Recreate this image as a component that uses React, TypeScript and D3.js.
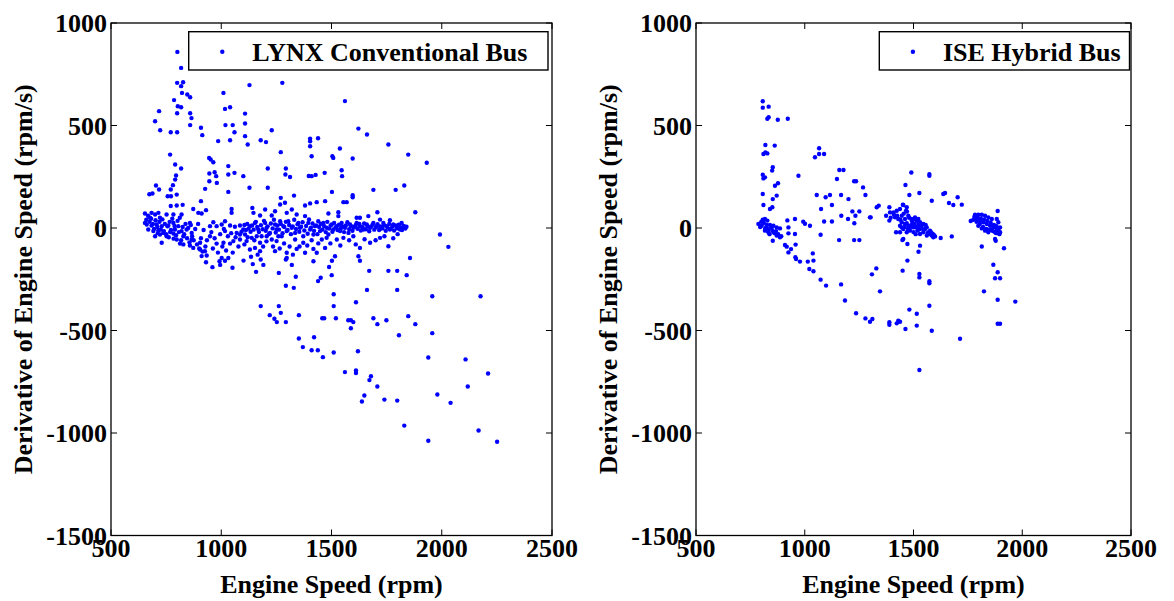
import React from 'react';
import * as d3 from 'd3';

const xTicks = [500, 1000, 1500, 2000, 2500];
const yTicks = [-1500, -1000, -500, 0, 500, 1000];
const xLabel = 'Engine Speed (rpm)';
const yLabel = 'Derivative of Engine Speed (rpm/s)';
const lynxName = 'LYNX Conventional Bus';
const iseName = 'ISE Hybrid Bus';

// LYNX conventional bus: [engine speed rpm, derivative rpm/s]
const lynxUpper: [number, number][] = [
  [801,859],[818,781],[800,708],[827,711],[818,692],[786,624],[822,659],[846,651],[859,638],[803,594],[818,589],[800,560],[859,560],[865,536],[859,502],[700,521],[718,570],[723,477],[771,467],[800,467],[768,358],[791,310],[818,290],[795,256],[791,236],[781,209],[771,188],[757,155],[772,155],[688,168],[704,207],[718,188],[798,163],[674,165],
  [1010,659],[1128,697],[1017,581],[1040,589],[1019,502],[1052,502],[1060,467],[1040,428],[986,424],[1108,558],[1108,510],[1108,448],[1120,407],[1229,477],[1179,428],[1203,419],[1277,708],[1270,370],[1403,436],[1403,423],[1403,399],[1439,438],[1410,350],[908,489],[914,453],[945,342],[952,334],[964,321],[946,266],[970,272],[977,253],[946,228],[927,191],[980,220],[1032,302],[1032,261],[1060,269],[1032,176],[1100,253],[1128,196],[1211,290],[1211,196],[1293,290],[1312,249],[1270,147],[1330,158],[1291,261],[1410,253],[1397,254],
  [1561,619],[1622,485],[1661,456],[1758,407],[1848,358],[1932,318],[1504,350],[1508,342],[1538,388],[1596,339],[1428,259],[1469,269],[1546,282],[1548,253],[1502,176],[1596,160],[1596,150],[1690,186],[1791,186],[1830,207],
];
const lynxBand: [number, number][] = [
  [771,107],[798,110],[825,113],[873,93],[908,131],[896,74],[911,71],[931,87],[1047,93],[1047,74],[1141,98],[1146,74],[1176,61],[1199,90],[1229,61],[1244,82],[1267,115],[1289,123],[1297,74],[1320,90],[1342,66],[1380,110],[1403,120],[1433,126],[1471,131],[1486,71],[1531,77],[1531,58],[1554,126],[1569,126],[1614,50],[1629,50],[1667,58],[1708,77],[1720,41],[1765,38],[1880,77],
  [654,71],[654,25],[684,74],[700,66],[715,74],[677,50],[722,50],[752,66],[783,66],[662,17],[684,12],[707,17],[730,9],[760,12],[783,25],[805,9],[669,-7],[692,-15],[715,-11],[737,-24],[768,-20],[790,-7],[820,-15],[700,-40],[722,-32],[752,-40],[783,-27],[828,-40],[730,-72],[798,-56],[813,-76],[828,-80],[858,-85],[866,-56],[873,-97],[904,-72],[904,-105],[911,-137],[926,-113],[934,-134],[949,-40],[964,28],[979,-76],[1017,33],[1010,-72],[1040,-76],[1055,-64],[1002,-146],[1032,-146],
  [1062,6],[1085,12],[1100,-7],[1085,-32],[1108,-32],[1130,9],[1153,25],[1168,-7],[1138,-48],[1130,-105],[1153,-97],[1176,-72],[1176,-113],[1199,25],[1206,1],[1221,-24],[1229,-56],[1244,17],[1251,-7],[1267,33],[1274,-40],[1282,9],[1297,-15],[1304,33],[1320,1],[1335,-24],[1335,-56],[1350,25],[1357,1],[1372,-40],[1372,-72],[1380,58],[1395,25],[1403,-7],[1418,-32],[1425,9],[1440,33],[1448,-15],[1456,-56],[1463,25],[1478,1],[1486,-32],[1501,17],[1508,-7],[1524,9],[1539,-15],[1546,25],[1561,1],[1577,-24],[1584,17],[1599,1],[1614,25],[1629,9],[1645,-7],[1660,17],[1675,1],[1690,25],[1705,9],[1720,-4],[1735,25],[1750,9],[1765,-7],[1780,17],[1796,6],[1811,-7],[1826,1],[1818,25],[1478,-48],[1524,-56],[1554,-48],[1599,-40],[1675,-72],[1720,-48],[1758,-89],[1629,-97],[1471,-97],[1433,-121],[1418,-102],[1380,-121],[1342,-102],[1297,-121],[1244,-113],[1297,-146],[1259,-40],[1251,-64],[1516,-138],[1622,-138],[1856,-146],[1992,-32],[2030,-92],
  [949,9],[979,9],[1002,17],[1017,-15],[1040,12],[866,-24],[843,-7],[858,25],[820,66],[1070,-24],[1085,-56],[1115,-64],[1161,-40],[1183,-40],[1206,-40],
];
const lynxBandDense: [number, number][] = [
  [1105,15],[1112,-10],[1118,20],[1124,-3],[1133,-18],[1140,12],[1147,-8],[1157,30],[1163,5],[1171,-20],[1180,14],[1188,-6],[1194,35],[1202,-14],[1210,8],[1216,-30],[1225,22],[1233,-2],[1239,40],[1247,-22],[1255,12],[1262,-8],[1270,20],[1278,-25],[1286,5],[1293,30],[1301,-10],[1308,15],[1316,-30],[1324,8],[1331,40],[1339,-5],[1346,18],[1354,-18],[1362,6],[1369,28],[1377,-12],[1385,10],[1392,-28],[1398,42],[1407,2],[1414,22],[1421,-14],[1430,12],[1436,-30],[1444,5],[1451,20],[1459,-8],[1466,10],[1474,-20],[1481,30],[1489,-3],[1496,12],[1504,-18],[1512,25],[1519,4],[1527,-10],[1534,16],[1542,-4],[1549,8],[1557,-20],[1565,12],[1572,28],[1580,-6],[1588,10],[1595,-14],[1603,6],[1610,15],[1618,-4],[1626,20],[1633,-12],[1641,4],[1648,22],[1656,-6],[1663,10],[1671,-16],[1679,6],[1686,16],[1694,-8],[1701,4],[1709,18],[1716,-10],[1724,8],[1731,-2],[1739,14],[1746,-14],[1754,2],[1762,20],[1769,-4],[1777,8],[1784,-12],[1792,12],[1799,-2],[1805,16],[1812,4],[1820,-10],[1828,10],[1835,-3],[1840,6],
  [660,40],[668,60],[675,30],[682,45],[690,20],[695,-5],[702,38],[710,5],[712,-25],[720,30],[726,-8],[733,42],[740,-15],[744,20],[750,-30],[756,8],[762,-45],[766,30],[772,-10],[778,45],[784,-52],[788,10],[795,-35],[802,35],[808,-20],[812,50],[818,-60],[825,5],[832,-30],[838,20],[845,-50],[850,0],[856,-70],[862,15],[868,-40],[875,-60],[882,-5],[890,-80],[895,20],[900,-100],[908,-50],[915,-115],[920,-10],[928,-90],[935,-60],
  [955,-20],[962,-100],[970,-50],[985,-120],[995,-30],[1005,-90],[1012,-5],[1022,-110],[1030,-40],[1045,-25],[1052,-120],[1065,-45],[1078,-90],[1092,-18],[1105,-80],[1120,-45],[1135,-140],[1150,-60],[1165,-130],[1190,-90],[1205,-65],[1235,-90],[1265,-100],[1285,-75],[1310,-90],[1325,-130],[1355,-90],[1390,-85],[1410,-60],[1440,-75],[1495,-75],[1540,-85],[1580,-60],[1610,-80],[1650,-55],[1700,-60],[1740,-40],[1780,-50],[1800,-30],
];
const lynxLower: [number, number][] = [
  [1629,-160],[1671,-209],[1758,-209],[1798,-209],[1841,-230],[1502,-160],[1489,-190],[1501,-230],[1451,-243],
  [931,-167],[960,-191],[992,-162],[995,-180],[1017,-160],[1051,-194],[1101,-159],[1143,-176],[1158,-214],[1179,-154],[1191,-180],[1261,-219],[1293,-154],[1320,-180],[1338,-238],[1293,-282],[1329,-292],[1179,-381],[1261,-381],[1220,-425],[1241,-443],[1252,-459],[1270,-414],[1293,-459],[1352,-425],[1352,-539],[1370,-581],[1421,-533],[1410,-596],[1438,-596],[1418,-162],[1439,-259],
  [1510,-323],[1510,-381],[1611,-362],[1661,-302],[1798,-302],[1957,-333],[2176,-333],[1458,-440],[1467,-440],[1520,-440],[1576,-450],[1588,-450],[1599,-459],[1588,-489],[1690,-440],[1708,-469],[1749,-450],[1848,-430],[1880,-469],[1806,-523],[1957,-513],
  [1461,-630],[1510,-607],[1620,-601],[1561,-703],[1611,-695],[1611,-707],[1679,-723],[1672,-742],[1708,-773],[1649,-817],[1638,-846],[1740,-837],[1798,-842],[1939,-632],[2108,-641],[2210,-710],[2118,-773],[1980,-812],[2040,-853],[1830,-964],[2167,-988],[1939,-1038],[2251,-1043],
];

// ISE hybrid bus: [engine speed rpm, derivative rpm/s]
const iseLeft: [number, number][] = [
  [807,618],[807,587],[834,592],[834,540],[828,533],[876,528],[922,533],[819,405],[862,402],[810,361],[819,369],[828,364],[853,296],[850,280],[807,260],[810,242],[817,247],[863,206],[877,218],[807,166],[871,158],[853,141],[810,112],[840,93],[851,101],[787,20],[807,41],[817,44],[828,36],[802,11],[822,3],[840,15],[856,11],[871,3],[886,-2],[817,-13],[833,-21],[856,-21],[871,-37],[886,-45],[853,-62],[828,-5],[920,37],[955,44],[925,3],[925,-26],[955,-29],[909,-83],[917,-91],[937,-103],[925,-119],[958,-81],[957,-143],
  [1037,-124],[993,31],[1001,21],[1024,11],[971,255],[1055,161],[1075,93],[1073,-33],[1089,32],[1066,389],[1047,345],[1066,361],[1089,361],[1096,150],[1116,161],[1125,112],[1125,32],[1148,239],[1159,283],[1178,283],[1167,161],[1158,-59],[1168,60],[1201,141],[1199,44],[1219,81],[1227,228],[1236,228],[1233,60],[1228,23],[1251,81],[1268,198],[1279,161],[1227,-59],[1251,-59],[1300,52],[1331,101],[1340,109],[1374,60],[1389,101],[1392,76],[1389,36],[1408,76],[1423,84],[1438,93],[1453,112],[1463,210],[1481,161],[1490,271],[1451,114],[1469,101],[1415,52],[1430,44],[1446,28],[1461,20],[1477,11],[1492,36],[1507,44],[1523,24],[1438,11],[1453,-5],[1469,-21],[1484,-13],[1500,3],[1518,-13],[1530,-29],[1449,-59],[1472,-78],[1303,52],[1420,-21],[1530,-86],[1523,-116],[1527,171],
  [812,25],[818,-3],[825,15],[832,-10],[838,-30],[845,5],[850,-10],[862,-25],[868,-15],[878,-30],[892,-40],[800,30],[795,5],
];
const iseRight: [number, number][] = [
  [1573,263],[1573,255],[1584,133],[1637,166],[1645,171],[1703,150],[1663,122],[1683,112],[1722,114],[1466,85],[1476,60],[1446,60],[1461,44],[1469,24],[1484,3],
  [1507,52],[1515,36],[1522,44],[1530,28],[1538,11],[1545,20],[1553,-5],[1561,3],[1568,-21],[1576,-13],[1584,-37],[1591,-45],[1522,11],[1530,-5],[1545,-21],[1561,-37],[1599,-41],[1625,-49],[1676,-41],[1438,-21],[1453,-54],[1446,3],[1492,44],
  [1455,70],[1470,80],[1480,50],[1495,30],[1505,20],[1512,5],[1520,-10],[1535,0],[1548,-8],[1556,15],[1565,-25],[1572,-30],[1580,-20],[1588,-28],[1595,-35],[1460,5],[1475,-5],[1490,15],[1500,-20],[1510,-30],[1440,40],[1425,60],[1410,65],[1395,50],
  [1763,34],[1783,65],[1798,65],[1814,65],[1829,60],[1844,52],[1860,44],[1791,44],[1806,36],[1821,28],[1837,20],[1852,11],[1867,3],[1883,-5],[1798,11],[1814,-2],[1829,-13],[1844,-21],[1860,-8],[1875,-21],[1890,-13],[1898,3],[1890,28],[1883,44],[1887,83],[1875,-54],[1878,-62],[1898,-21],[1814,-90],[1916,-99],
  [1780,55],[1795,50],[1810,45],[1825,40],[1840,35],[1855,25],[1870,15],[1880,10],[1892,0],[1805,20],[1820,5],[1835,-5],[1850,-10],[1865,-15],[1880,-25],[1895,-30],[1775,40],[1790,30],
];
const iseLower: [number, number][] = [
  [960,-151],[978,-164],[1014,-164],[1040,-159],[1021,-200],[1040,-211],[1073,-252],[1098,-281],[1167,-275],[1185,-354],[1236,-416],[1279,-441],[1300,-457],[1311,-444],[1309,-226],[1329,-197],[1346,-309],[1389,-460],[1389,-472],[1423,-465],[1430,-452],[1438,-457],[1463,-493],[1481,-398],[1450,-208],[1472,-159],[1515,-418],[1515,-476],[1527,-693],[1527,-224],[1527,-241],
  [1573,-260],[1573,-270],[1573,-379],[1584,-501],[1714,-540],[1867,-179],[1887,-216],[1875,-245],[1898,-245],[1824,-309],[1887,-350],[1968,-359],[1887,-467],[1898,-467],
];

const lynxData = [...lynxUpper, ...lynxBand, ...lynxBandDense, ...lynxLower];
const iseData = [...iseLeft, ...iseRight, ...iseLower];

const FONT = '"Liberation Serif","Times New Roman",Times,serif';
const FS = 26;
const TOP = 23;
const BOTTOM = 535.5;
const TICK = 6;

type PanelProps = {
  data: [number, number][];
  x0: number;
  x1: number;
  name: string;
  legX: number;
  legW: number;
};

function Panel({ data, x0, x1, name, legX, legW }: PanelProps) {
  const x = d3.scaleLinear().domain([500, 2500]).range([x0, x1]);
  const y = d3.scaleLinear().domain([-1500, 1000]).range([BOTTOM, TOP]);
  const legY = 31.7;
  const legH = 38.3;
  return (
    <g>
      {data.map((d, i) => (
        <circle key={i} cx={x(d[0])} cy={y(d[1])} r={2.2} fill="#0000ff" />
      ))}
      {xTicks.map((t) => (
        <g key={'xt' + t}>
          <line x1={x(t)} x2={x(t)} y1={BOTTOM} y2={BOTTOM - TICK} stroke="#000" strokeWidth={1} />
          <line x1={x(t)} x2={x(t)} y1={TOP} y2={TOP + TICK} stroke="#000" strokeWidth={1} />
          <text x={x(t)} y={556.7} textAnchor="middle" fontFamily={FONT} fontWeight="bold" fontSize={FS}>
            {t}
          </text>
        </g>
      ))}
      {yTicks.map((t) => (
        <g key={'yt' + t}>
          <line x1={x0} x2={x0 + TICK} y1={y(t)} y2={y(t)} stroke="#000" strokeWidth={1} />
          <line x1={x1} x2={x1 - TICK} y1={y(t)} y2={y(t)} stroke="#000" strokeWidth={1} />
          <text x={x0 - 4} y={y(t) + 9.3} textAnchor="end" fontFamily={FONT} fontWeight="bold" fontSize={FS}>
            {t}
          </text>
        </g>
      ))}
      <rect x={x0} y={TOP} width={x1 - x0} height={BOTTOM - TOP} fill="none" stroke="#000" strokeWidth={1.3} />
      <rect x={legX} y={legY} width={legW} height={legH} fill="#fff" stroke="#000" strokeWidth={1.4} />
      <circle cx={legX + 33.6} cy={51.7} r={2.2} fill="#0000ff" />
      <text x={legX + 63.6} y={61} fontFamily={FONT} fontWeight="bold" fontSize={FS}>
        {name}
      </text>
      <text x={(x0 + x1) / 2} y={593.3} textAnchor="middle" fontFamily={FONT} fontWeight="bold" fontSize={FS}>
        {xLabel}
      </text>
      <text
        transform={`translate(${x0 - 79},${(TOP + BOTTOM) / 2}) rotate(-90)`}
        textAnchor="middle"
        fontFamily={FONT}
        fontWeight="bold"
        fontSize={FS}
      >
        {yLabel}
      </text>
    </g>
  );
}

export default function App() {
  return (
    <svg
      width={1174}
      height={601}
      viewBox="0 0 1174 601"
      style={{ position: 'absolute', left: 0, top: 0, background: '#fff' }}
    >
      <rect x={0} y={0} width={1174} height={601} fill="#fff" />
      <Panel data={lynxData} x0={111} x1={552} name={lynxName} legX={188.7} legW={359.3} />
      <Panel data={iseData} x0={696} x1={1131} name={iseName} legX={879.3} legW={250.2} />
    </svg>
  );
}
